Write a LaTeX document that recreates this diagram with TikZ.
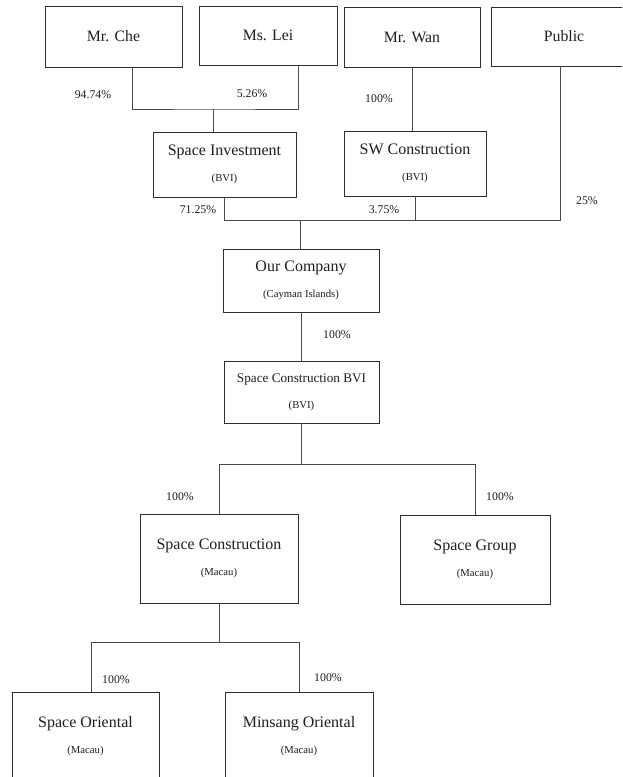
\documentclass[tikz,border=0pt]{standalone}
\usepackage{fontspec}
\setmainfont{Liberation Serif}
\usepackage{xcolor}
\definecolor{BoxLine}{HTML}{2E2E2E}
\definecolor{LinkLine}{HTML}{4A4A4A}
\definecolor{InkText}{HTML}{1E1E1E}
\newcommand{\entity}[2]{#1\\[7pt]{\fontsize{10.7}{12}\selectfont #2}}

\tikzset{
  firm/.style={draw=BoxLine, line width=1pt, inner sep=0pt, outer sep=0pt,
    align=center, text=InkText, font=\fontsize{16}{19}\selectfont},
  holder/.style={firm, font=\fontsize{15.8}{19}\selectfont},
  link/.style={draw=LinkLine, line width=1pt},
  share/.style={inner sep=0pt, text=InkText, font=\fontsize{11.8}{14}\selectfont},
}

\begin{document}
\begin{tikzpicture}[x=1pt,y=-1pt]
    \clip (0,0) rectangle (622,777);

    % shareholders
    \node[holder, minimum width=137, minimum height=61] (che) at (113.5,36.5) {Mr. Che};
    \node[holder, minimum width=138, minimum height=59] (lei) at (268,35.5) {Ms. Lei};
    \node[holder, minimum width=136, minimum height=60] (wan) at (412,37) {Mr. Wan};
    \node[holder, minimum width=146, minimum height=59] (pub) at (564,36.5) {Public};

    % holding companies
    \node[firm, minimum width=143, minimum height=65] (si) at (224.5,164.5) {\entity{Space Investment}{(BVI)}};
    \node[firm, minimum width=142, minimum height=65] (sw) at (415,163.5) {\entity{SW Construction}{(BVI)}};
    \node[firm, minimum width=156, minimum height=63] (our) at (301,280.5) {\entity{Our Company}{(Cayman Islands)}};
    \node[firm, minimum width=155, minimum height=62, font=\fontsize{13.2}{19}\selectfont] (scbvi) at (301.5,392) {\entity{Space Construction BVI}{(BVI)}};

    % subsidiaries
    \node[firm, minimum width=158, minimum height=89] (sc) at (219,558.5) {\entity{Space Construction}{(Macau)}};
    \node[firm, minimum width=150, minimum height=89] (sg) at (475,559.5) {\entity{Space Group}{(Macau)}};
    \node[firm, minimum width=147, minimum height=89] (so) at (85.5,736.5) {\entity{Space Oriental}{(Macau)}};
    \node[firm, minimum width=148, minimum height=89] (mo) at (299,736.5) {\entity{Minsang Oriental}{(Macau)}};

    % junctions
    \coordinate (joinHold) at (213,109);
    \coordinate (joinTop) at (300,220);
    \coordinate (joinSub) at (300,464);
    \coordinate (joinLow) at (215,642);

    % connectors
    \draw[link] ([xshift=18.5]che.south) |- (joinHold) -| ([xshift=30]lei.south);
    \draw[link] (joinHold) -- (joinHold |- si.north);
    \draw[link] (wan.south) -- (wan.south |- sw.north);
    \draw[link] ([xshift=-4]pub.south) |- (joinTop);
    \draw[link] (si.south) |- (joinTop);
    \draw[link] (sw.south) -- (sw.south |- joinTop);
    \draw[link] (joinTop) -- (joinTop |- our.north);
    \draw[link] (our.south) -- (our.south |- scbvi.north);
    \draw[link] (scbvi.south) -- (scbvi.south |- joinSub);
    \draw[link] (sc.north) |- (sg.north |- joinSub) -- (sg.north);
    \draw[link] (sc.south) -- (sc.south |- joinLow);
    \draw[link] ([xshift=5.5]so.north) |- (mo.north |- joinLow) -- (mo.north);

    % shareholdings
    \node[share] (pcChe) at (93,95) {94.74\%};
    \node[share] (pcLei) at (252,94) {5.26\%};
    \node[share] (pcWan) at (379,99) {100\%};
    \node[share] (pcSI) at (198,210) {71.25\%};
    \node[share] (pcSW) at (384,210) {3.75\%};
    \node[share] (pcPub) at (587,201) {25\%};
    \node[share] (pcOur) at (337,335) {100\%};
    \node[share] (pcSC) at (180,497) {100\%};
    \node[share] (pcSG) at (500,497) {100\%};
    \node[share] (pcSO) at (116,680) {100\%};
    \node[share] (pcMO) at (328,678) {100\%};
\end{tikzpicture}
\end{document}
